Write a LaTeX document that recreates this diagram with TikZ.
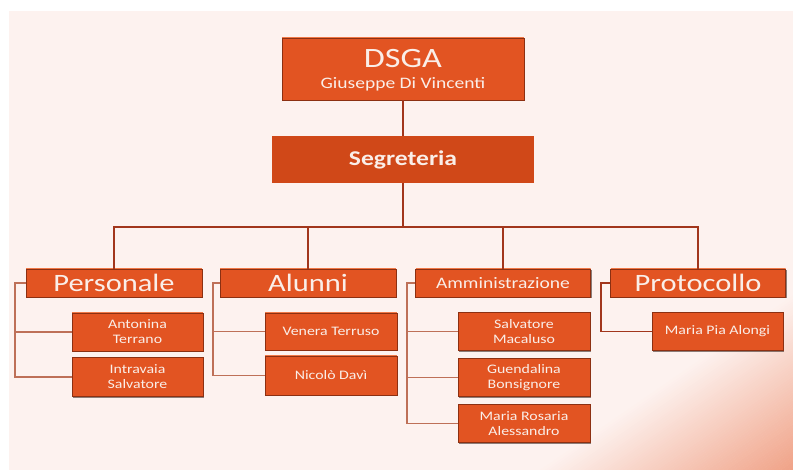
\documentclass[tikz,border=0pt]{standalone}
\usepackage{fontspec}
\setmainfont{Carlito}[FakeStretch=1.22]
\usetikzlibrary{shadows}
\definecolor{bgpink}{RGB}{253,242,239}
\definecolor{bgorange}{RGB}{240,163,136}
\definecolor{boxfill}{RGB}{226,84,34}
\definecolor{boxhi}{RGB}{240,120,70}
\definecolor{segfill}{RGB}{208,72,24}
\definecolor{boxedge}{RGB}{140,48,18}
\definecolor{mainline}{RGB}{162,54,28}
\definecolor{subline}{RGB}{190,112,88}
\definecolor{txt}{RGB}{250,238,232}
\tikzset{
  box/.style={fill=boxfill, draw=boxedge, line width=0.9pt, text=txt, inner sep=0pt, align=center,
    drop shadow={shadow xshift=1.3pt, shadow yshift=-1.3pt, opacity=0.5, fill=black!80!boxedge},
    path picture={\draw[boxhi, line width=2pt] (path picture bounding box.north west) -- (path picture bounding box.north east);}},
  segbox/.style={fill=segfill, draw=none, text=txt, inner sep=0pt, align=center, font=\bfseries\fontsize{21}{24}\selectfont},
  lvl/.style={box, minimum width=176pt, minimum height=28pt},
  leaf/.style={box, minimum width=131pt, minimum height=38pt, font=\fontsize{13}{15}\selectfont},
  mainconn/.style={draw=mainline, line width=1.5pt},
  subconn/.style={draw=subline, line width=1.5pt},
  lbl/.style={text=txt, inner sep=0pt, anchor=base},
}
\begin{document}
\begin{tikzpicture}[x=1pt, y=1pt]
\useasboundingbox (0,0) rectangle (793,-470);
\fill[white] (0,0) rectangle (793,-470);
\fill[bgpink] (9,-11) rectangle (793,-470);
\begin{scope}
  \clip (9,-11) rectangle (793,-470);
  \begin{scope}[shift={(793,-470)}, rotate=34.6]
    \foreach \i in {0,...,64} {
      \pgfmathsetmacro{\pc}{100*(1-\i/65)}
      \fill[bgorange!\pc!bgpink] (-400,{\i*2.2}) rectangle (400,{(\i+1)*2.2+0.4});
    }
  \end{scope}
\end{scope}

% top nodes
\node[box, minimum width=242pt, minimum height=62pt] (dsga) at (403,-69) {};
\node[lbl, font=\fontsize{28}{30}\selectfont] (dsgat) at (403,-68) {DSGA};
\node[lbl, font=\fontsize{16}{18}\selectfont] (dsgan) at (403,-89) {Giuseppe Di Vincenti};
\node[segbox, minimum width=262pt, minimum height=47pt] (seg) at (403,-159.5) {Segreteria};

% level nodes
\node[lvl, font=\fontsize{25}{27}\selectfont] (pers) at (114,-283) {Personale};
\node[lvl, font=\fontsize{25}{27}\selectfont] (alun) at (308,-283) {Alunni};
\node[lvl, minimum width=175pt, font=\fontsize{16}{18}\selectfont] (amm) at (503,-283) {Amministrazione};
\node[lvl, minimum width=175pt, font=\fontsize{25}{27}\selectfont] (prot) at (698,-283) {Protocollo};

% leaves
\node[leaf] (ant) at (137.5,-332) {Antonina\\Terrano};
\node[leaf, minimum height=39pt] (intr) at (137.5,-377) {Intravaia\\Salvatore};
\node[leaf, minimum width=132pt, minimum height=37pt] (ven) at (331,-331.5) {Venera Terruso};
\node[leaf, minimum width=132pt, minimum height=39pt] (nic) at (331,-375.5) {Nicolò Davì};
\node[leaf, minimum width=132pt] (salv) at (524,-331.5) {Salvatore\\Macaluso};
\node[leaf, minimum width=132pt] (guen) at (524,-377.5) {Guendalina\\Bonsignore};
\node[leaf, minimum width=132pt] (mros) at (524,-423.5) {Maria Rosaria\\Alessandro};
\node[leaf] (mpia) at (717.5,-331.5) {Maria Pia Alongi};

% main connectors
\coordinate (hub) at (403,-227);
\draw[mainconn] (dsga.south) -- (seg.north);
\draw[mainconn] (seg.south) -- (hub);
\draw[mainconn] (hub) -| (pers.north);
\draw[mainconn] (hub) -| (alun.north);
\draw[mainconn] (hub) -| (amm.north);
\draw[mainconn] (hub) -| (prot.north);

% sub connectors
\coordinate (sp) at (15,-283);
\coordinate (sa) at (213,-283);
\coordinate (sm) at (407,-283);
\coordinate (sr) at (601,-283);
\draw[subconn] (pers.west) -- (sp) |- (intr.west);
\draw[subconn] (sp) |- (ant.west);
\draw[subconn] (alun.west) -- (sa) |- (nic.west);
\draw[subconn] (sa) |- (ven.west);
\draw[subconn] (amm.west) -- (sm) |- (mros.west);
\draw[subconn] (sm) |- (salv.west);
\draw[subconn] (sm) |- (guen.west);
\draw[mainconn] (prot.west) -- (sr) |- (mpia.west);
\end{tikzpicture}
\end{document}
